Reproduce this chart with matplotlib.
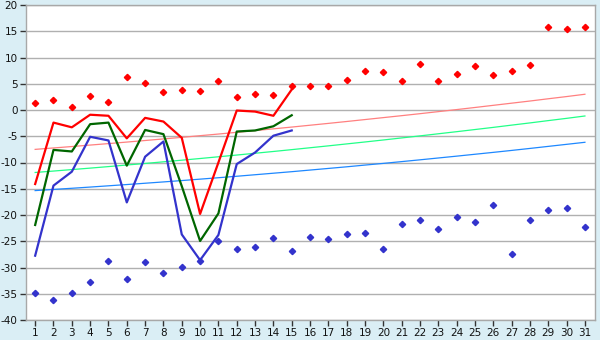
import matplotlib
matplotlib.use("Agg")
import matplotlib.pyplot as plt

plt.rcParams['axes.unicode_minus'] = False
plt.rcParams['font.family'] = ['DejaVu Sans']

days = list(range(1, 32))
line_days = list(range(1, 16))

max_points = [1.3, 1.9, 0.5, 2.6, 1.5, 6.2, 5.1, 3.4, 3.9, 3.55, 5.5, 2.4, 3.0, 2.8, 4.5,
              4.5, 4.5, 5.65, 7.35, 7.2, 5.5, 8.7, 5.5, 6.8, 8.3, 6.6, 7.35, 8.5, 15.9, 15.4, 15.8]
min_points = [-34.9, -36.1, -34.9, -32.8, -28.8, -32.2, -29.0, -31.1, -29.9, -28.8, -24.95,
              -26.5, -26.15, -24.4, -26.9, -24.1, -24.6, -23.7, -23.5, -26.5, -21.8, -21.0,
              -22.7, -20.4, -21.4, -18.15, -27.5, -21.0, -19.1, -18.7, -22.2]

max_line = [-14.1, -2.4, -3.3, -0.9, -1.1, -5.4, -1.5, -2.2, -5.3, -19.8, -10.0, -0.1, -0.3, -1.1, 3.9]
mean_line = [-21.9, -7.6, -7.9, -2.7, -2.4, -10.6, -3.8, -4.6, -14.5, -24.95, -19.7, -4.1, -3.9, -3.1, -1.0]
min_line = [-27.75, -14.4, -11.75, -5.1, -5.8, -17.6, -8.9, -6.0, -23.7, -28.6, -23.8, -10.3, -8.1, -4.9, -3.9]

norm_max = [-7.5, -7.23, -6.96, -6.68, -6.40, -6.11, -5.81, -5.51, -5.21, -4.89, -4.58, -4.25,
            -3.92, -3.59, -3.25, -2.90, -2.55, -2.19, -1.82, -1.45, -1.08, -0.70, -0.31, 0.08,
            0.48, 0.89, 1.30, 1.71, 2.14, 2.56, 3.0]
norm_mean = [-11.9, -11.63, -11.35, -11.07, -10.78, -10.48, -10.18, -9.87, -9.56, -9.24, -8.91,
             -8.58, -8.24, -7.90, -7.55, -7.19, -6.83, -6.46, -6.09, -5.71, -5.32, -4.93, -4.53,
             -4.13, -3.72, -3.31, -2.88, -2.46, -2.02, -1.59, -1.14]
norm_min = [-15.35, -15.13, -14.91, -14.68, -14.44, -14.20, -13.95, -13.70, -13.44, -13.17,
            -12.90, -12.62, -12.33, -12.04, -11.75, -11.44, -11.13, -10.82, -10.49, -10.17,
            -9.83, -9.49, -9.14, -8.79, -8.43, -8.07, -7.70, -7.32, -6.93, -6.54, -6.15]

y_ticks = list(range(-40, 25, 5))

fig = plt.figure(figsize=(6, 3.4), dpi=100, facecolor='#DAEEF5')
ax = fig.add_axes([26/600, 1-320/340, (595-26)/600, (320-5)/340])
ax.set_facecolor('white')

ax.plot(days, norm_max, color='#FF8080', lw=0.9, zorder=2)
ax.plot(days, norm_mean, color='#22FF88', lw=0.9, zorder=2)
ax.plot(days, norm_min, color='#1E88FF', lw=0.9, zorder=2)

ax.plot(line_days, max_line, color='#FF0000', lw=1.6, zorder=3)
ax.plot(line_days, mean_line, color='#006600', lw=1.6, zorder=3)
ax.plot(line_days, min_line, color='#3333CC', lw=1.6, zorder=3)

ax.plot(days, max_points, ls='none', marker='D', ms=3.2, color='#FF0000', mec='#FF0000', zorder=4)
ax.plot(days, min_points, ls='none', marker='D', ms=3.2, color='#3333CC', mec='#3333CC', zorder=4)

ax.set_xlim(0.5, 31.55)
ax.set_ylim(-40, 20)
ax.set_yticks(y_ticks)
ax.set_yticklabels([str(v) for v in y_ticks])
ax.set_xticks(days)
ax.set_xticklabels([str(d) for d in days])
ax.yaxis.grid(True, color='#B0B0B0', lw=1)
ax.set_axisbelow(True)
for s in ax.spines.values():
    s.set_color('#A8A8A8')
    s.set_linewidth(1)
ax.tick_params(axis='both', length=4, width=1, color='#333333', labelsize=7.5,
               labelcolor='#111111', pad=2)

fig.savefig('out.png', dpi=100, facecolor=fig.get_facecolor())
